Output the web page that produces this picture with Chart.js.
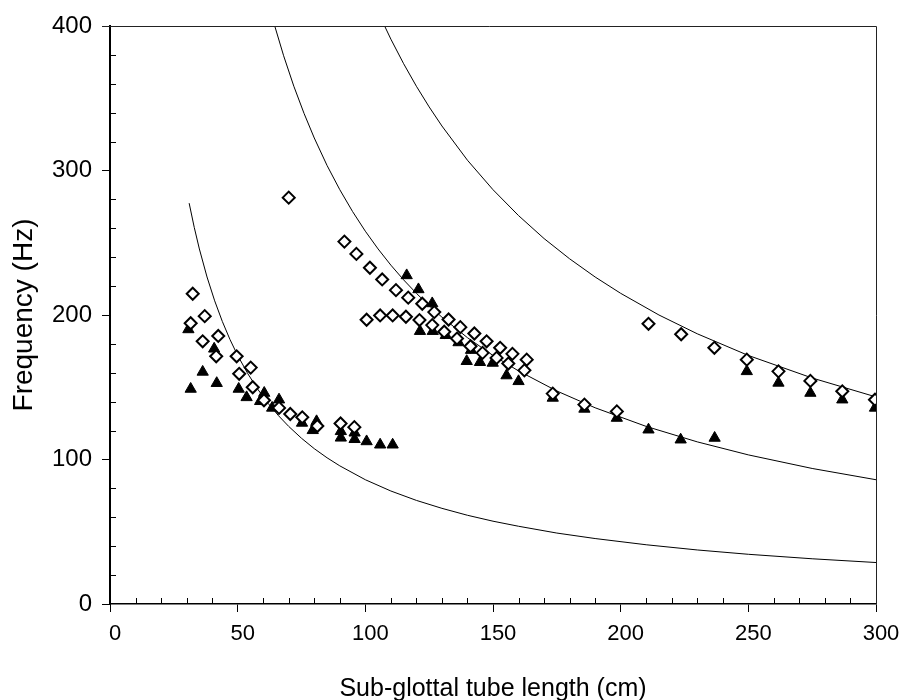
<!DOCTYPE html>
<html><head><meta charset="utf-8">
<script src="https://cdn.jsdelivr.net/npm/chart.js@4.4.1/dist/chart.umd.min.js"></script>
<style>html,body{margin:0;padding:0;background:#fff;}</style>
</head><body>
<canvas id="c" width="901" height="700"></canvas>
<script>
// Open diamonds
const diamondX = [32.4,37.1,31.6,36.3,42.4,41.6,49.6,55.1,50.6,55.9,60.3,66.2,70.6,75.3,81.2,90.3,95.7,70.0,
  91.8,96.5,101.8,106.6,112.0,116.8,122.3,127.0,132.6,137.2,142.7,147.5,152.8,157.6,163.2,
  100.5,105.8,110.7,115.9,121.2,126.2,130.9,135.9,141.2,145.9,151.4,156.0,162.3,173.4,
  185.8,198.5,210.9,223.7,236.7,249.4,261.8,274.3,286.8,299.6];
const diamondY = [214.7,199.2,194.3,181.8,185.5,171.4,171.4,163.6,159.3,150.0,141.0,135.7,131.5,129.2,123.2,124.9,122.4,281.2,
  250.8,242.3,232.7,224.6,217.2,212.0,207.8,202.0,196.9,191.6,187.2,181.8,177.3,173.1,169.1,
  196.7,199.7,199.7,198.8,196.5,193.0,188.4,183.7,178.4,173.8,170.3,166.4,161.7,145.6,
  138.0,133.3,193.9,186.7,177.3,169.1,161.0,154.4,147.2,141.4];
// Filled triangles
const triangleX = [30.7,40.8,36.3,31.6,41.8,50.4,53.5,60.4,58.8,66.2,63.5,75.2,80.9,79.4,90.4,95.8,90.4,95.8,100.5,105.8,110.7,
  116.2,120.8,126.2,121.4,126.4,131.5,136.5,141.4,139.7,144.9,149.9,155.3,160.0,173.4,
  185.8,198.5,210.9,223.5,236.8,249.4,261.8,274.3,286.8,299.6];
const triangleY = [190.0,176.6,160.6,148.8,152.8,148.8,143.0,146.0,140.3,141.4,135.7,125.3,126.4,120.2,119.5,118.5,115.0,114.0,112.5,110.2,110.2,
  227.4,217.7,208.0,188.8,188.8,186.0,181.0,175.7,168.0,167.3,166.8,158.1,154.1,142.6,
  135.0,128.7,120.6,113.7,114.9,161.0,153.0,146.0,141.4,135.7];
// Model curves
const curve1X = [31,33,35,38,41,44,47,50,54,58,62,66,70,75,80,85,90,100,110,120,130,140,150,160,175,190,210,230,250,275,300];
const curve1Y = [277.4,260.6,245.7,226.3,209.8,195.5,183.0,172.0,159.3,148.3,138.7,130.3,122.9,114.7,107.5,101.2,95.6,86.0,78.2,71.7,66.2,61.4,57.3,53.8,49.1,45.3,41.0,37.4,34.4,31.3,28.7];
const curve2X = [60,64,68,72,76,80,85,90,95,100,105,110,115,120,125,130,140,150,160,175,190,210,230,250,275,300];
const curve2Y = [430.0,403.1,379.4,358.3,339.5,322.5,303.5,286.7,271.6,258.0,245.7,234.5,224.3,215.0,206.4,198.5,184.3,172.0,161.3,147.4,135.8,122.9,112.2,103.2,93.8,86.0];
const curve3X = [100,105,110,115,120,125,130,140,150,160,170,180,190,200,215,230,250,275,300];
const curve3Y = [430.0,409.5,390.9,373.9,358.3,344.0,330.8,307.1,286.7,268.8,252.9,238.9,226.3,215.0,200.0,187.0,172.0,156.4,143.3];
const xTicks = [0,50,100,150,200,250,300];
const yTicks = [0,100,200,300,400];
const xTitle = 'Sub-glottal tube length (cm)';
const yTitle = 'Frequency (Hz)';

const pts = (xs, ys) => xs.map((x, i) => ({x, y: ys[i]}));
const curveDs = (xs, ys) => ({type:'line', data: pts(xs, ys), borderColor:'#000', borderWidth:1, pointRadius:0, fill:false, tension:0, order:3, clip:0});
const FAM = '"Liberation Sans", Arial, sans-serif';

const frame = {
  id:'frame',
  afterDraw(chart){
    const {ctx, chartArea:a, scales:{x, y}} = chart;
    ctx.save();
    ctx.strokeStyle = '#222'; ctx.lineWidth = 1;
    ctx.beginPath();
    ctx.moveTo(a.left - 8, a.top + 0.5); ctx.lineTo(a.right + 0.5, a.top + 0.5);
    ctx.lineTo(a.right + 0.5, a.bottom);
    ctx.stroke();
    ctx.strokeStyle = '#000';
    ctx.beginPath();
    for (let v = 20; v < 400; v += 20) {
      if (v % 100 === 0) continue;
      const py = Math.round(y.getPixelForValue(v)) + 0.5;
      ctx.moveTo(a.left, py); ctx.lineTo(a.left + 6, py);
    }
    for (let v = 10; v < 300; v += 10) {
      if (v % 50 === 0) continue;
      const px = Math.round(x.getPixelForValue(v)) + 0.5;
      ctx.moveTo(px, a.bottom); ctx.lineTo(px, a.bottom - 6);
    }
    ctx.stroke();
    ctx.restore();
  }
};

new Chart(document.getElementById('c'), {
  type:'scatter',
  data:{ datasets:[
    {label:'open', data: pts(diamondX, diamondY), pointStyle:'rectRot', pointRadius:6, pointBackgroundColor:'#fff', pointBorderColor:'#000', pointBorderWidth:2, showLine:false, order:1},
    {label:'filled', data: pts(triangleX, triangleY), pointStyle:'triangle', pointRadius:6.5, pointBackgroundColor:'#000', pointBorderColor:'#000', pointBorderWidth:1, showLine:false, order:2},
    curveDs(curve1X, curve1Y),
    curveDs(curve2X, curve2Y),
    curveDs(curve3X, curve3Y)
  ]},
  options:{
    responsive:false, animation:false,
    layout:{padding:{left:0, top:26, right:25, bottom:0}},
    plugins:{legend:{display:false}, tooltip:{enabled:false}},
    scales:{
      x:{type:'linear', min:0, max:300,
        afterBuildTicks(s){ s.ticks = xTicks.map(v => ({value:v})); },
        afterFit(s){ s.height = 96; s.paddingLeft = 0; s.paddingRight = 0; },
        border:{display:true, color:'#000', width:1.5},
        grid:{drawOnChartArea:false, drawTicks:true, tickLength:8, color:'#000', lineWidth:1},
        ticks:{color:'#000', padding:9, labelOffset:5, font:{family:FAM, size:22}},
        title:{display:true, text:xTitle, color:'#000', padding:{top:0,bottom:0}, font:{family:FAM, size:25, lineHeight:0.85}}
      },
      y:{type:'linear', min:0, max:400,
        afterBuildTicks(s){ s.ticks = yTicks.map(v => ({value:v})); },
        afterFit(s){ s.width = 110; s.paddingTop = 0; s.paddingBottom = 0; },
        border:{display:true, color:'#000', width:2},
        grid:{drawOnChartArea:false, drawTicks:true, tickLength:8, color:'#000', lineWidth:1},
        ticks:{color:'#000', padding:10, font:{family:FAM, size:24}},
        title:{display:true, text:yTitle, color:'#000', padding:{top:10,bottom:0}, font:{family:FAM, size:28, lineHeight:1}}
      }
    }
  },
  plugins:[frame]
});
</script>
</body></html>
